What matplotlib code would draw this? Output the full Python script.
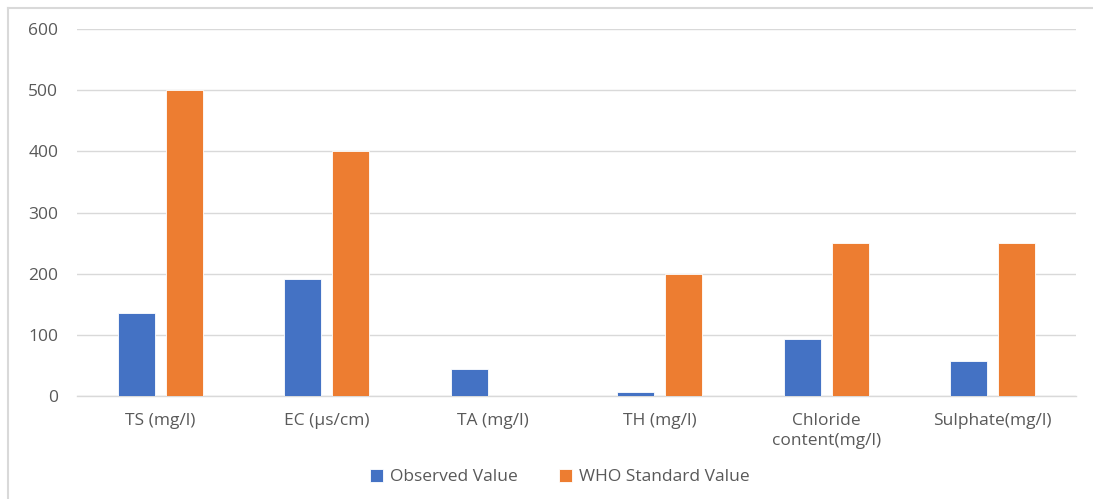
import matplotlib
matplotlib.use("Agg")
import matplotlib.pyplot as plt
from matplotlib.lines import Line2D
import numpy as np

categories = ["TS (mg/l)", "EC (\u00b5s/cm)", "TA (mg/l)", "TH (mg/l)", "Chloride\ncontent(mg/l)", "Sulphate(mg/l)"]
observed = [135, 192, 44, 6, 94, 57]
who_standard = [500, 400, 0, 200, 250, 250]
series_names = ["Observed Value", "WHO Standard Value"]
yticks = [0, 100, 200, 300, 400, 500, 600]

blue = "#4472C4"
orange = "#ED7D31"
text_col = "#595959"

plt.rcParams['font.family'] = ['Open Sans', 'DejaVu Sans']

W, H = 1093, 499
fig = plt.figure(figsize=(W/100, H/100), dpi=100)
ax = fig.add_axes([77/W, 1-396/H, (1076-77)/W, (396-29)/H])

x = np.arange(len(categories))
bw = 0.222
off = 0.144
ax.bar(x - off, observed, bw, color=blue, edgecolor="white", linewidth=0.6, label=series_names[0], zorder=3)
ax.bar(x + off, who_standard, bw, color=orange, edgecolor="white", linewidth=0.6, label=series_names[1], zorder=3)

ax.set_xlim(-0.5, len(categories) - 0.5)
ax.set_ylim(0, 600)
ax.set_yticks(yticks)
ax.set_yticklabels([str(v) for v in yticks])
ax.set_xticks(x)
ax.set_xticklabels(categories, linespacing=1.35)
ax.tick_params(axis='both', length=0, colors=text_col, labelsize=12.5)
ax.tick_params(axis='y', pad=13.5)
ax.tick_params(axis='x', pad=12)
ax.grid(axis='y', color="#d9d9d9", linewidth=1.0, zorder=0)
for s in ['top', 'right', 'left']:
    ax.spines[s].set_visible(False)
ax.spines['bottom'].set_color("#d9d9d9")
ax.spines['bottom'].set_linewidth(1.0)

leg = fig.legend(loc='center', bbox_to_anchor=(560/W, 1-477/H), ncol=2, frameon=False,
                 fontsize=12.5, handlelength=0.75, handleheight=0.75, handletextpad=0.4,
                 columnspacing=2.4)
for t in leg.get_texts():
    t.set_color(text_col)

# outer chart frame (only top and left edges visible)
fig.add_artist(Line2D([7.5/W, 1.0], [1-7.5/H, 1-7.5/H], transform=fig.transFigure,
                      color="#d9d9d9", linewidth=1.5))
fig.add_artist(Line2D([7.5/W, 7.5/W], [0.0, 1-7.5/H], transform=fig.transFigure,
                      color="#d9d9d9", linewidth=1.5))

fig.savefig("out.png", dpi=100)
